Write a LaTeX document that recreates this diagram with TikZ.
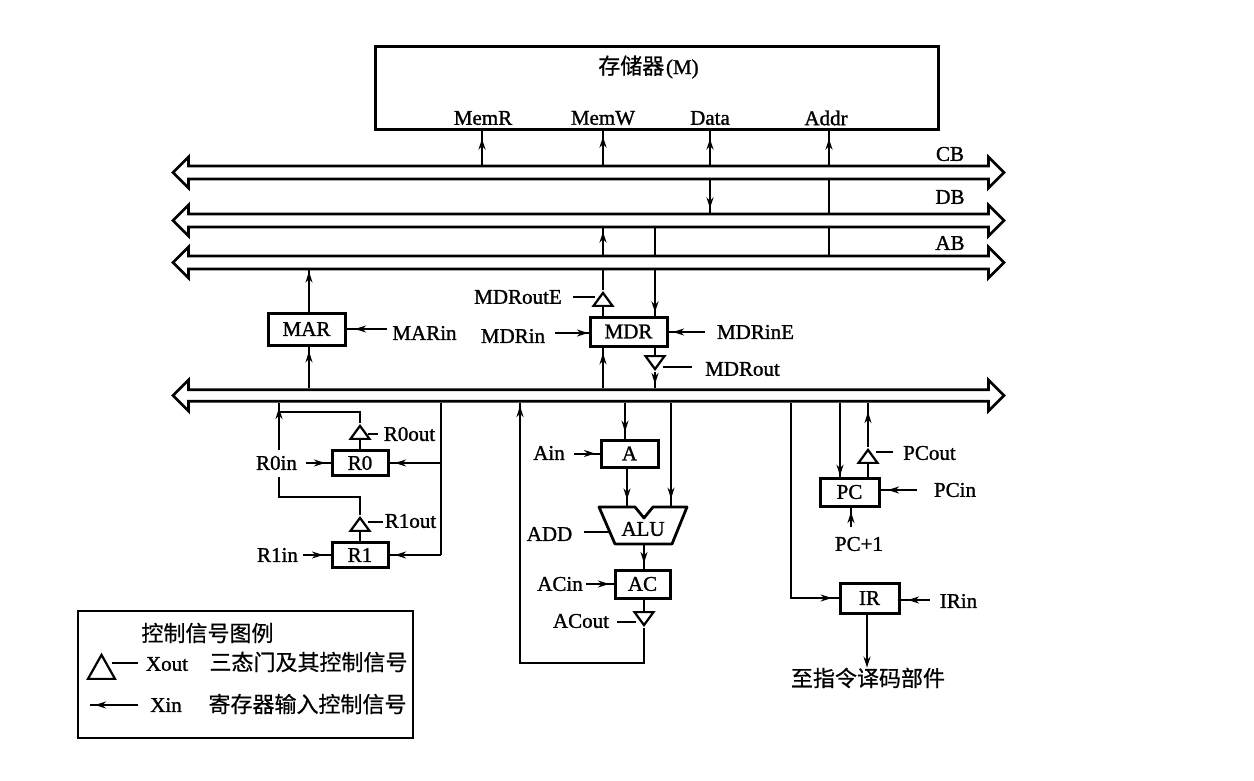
\documentclass[tikz,border=0pt]{standalone}
\usepackage{fontspec}
\setmainfont{Liberation Serif}[FakeBold=1.2]
\newfontfamily\cjk{Noto Sans CJK SC}[FakeBold=0.6]
\usetikzlibrary{arrows.meta,decorations.markings,shapes.geometric,shapes.arrows}
\tikzset{
  x=1pt,y=-1pt,
  label/.style={inner sep=0pt,font=\fontsize{21}{24}\selectfont,text=black},
  cjklabel/.style={inner sep=0pt,font=\fontsize{22}{24}\selectfont\cjk,text=black},
  reg/.style={draw,line width=3pt,inner sep=0pt,font=\fontsize{21}{24}\selectfont,text=black},
  bus/.style={draw,fill=white,line width=2.8pt,double arrow,double arrow head extend=9pt,
     double arrow head indent=0pt,inner xsep=0pt,inner ysep=5pt,minimum height=831pt,minimum width=31pt},
  link/.style={line width=2.3pt},
  ctl/.style={line width=2pt},
  tip at/.style={postaction={decorate},decoration={markings,
     mark=at position #1 with {\arrow{Stealth[length=11pt,width=7pt]}}}},
  tribuf/.style={draw,line width=2.2pt,isosceles triangle,isosceles triangle stretches,inner sep=0pt,
     minimum width=19pt,minimum height=13pt},
  triup/.style={tribuf,shape border rotate=90},
  tridown/.style={tribuf,shape border rotate=-90},
}
\begin{document}
\begin{tikzpicture}
\useasboundingbox (0,0) rectangle (1254,781);
\fill[white] (0,0) rectangle (1254,781);
\foreach \v in {279,309,360,441,482,520,603,625,627,644,655,671,710,791,829,840,851,867,868}
  \coordinate (x\v) at (\v,0);
\foreach \v in {412,450,477,497}
  \coordinate (y\v) at (0,\v);

% memory
\node[draw,line width=3pt,minimum width=563pt,minimum height=83pt,inner sep=0pt] (M) at (656.5,88.5) {};
\node[inner sep=0pt] (Mt) at (648.5,67) {{\cjk\fontsize{22}{24}\selectfont 存储器}\,{\fontsize{21}{24}\selectfont (M)}};
\node[label] (pR) at (483,118) {MemR};
\node[label] (pW) at (603,118) {MemW};
\node[label] (pD) at (710,118) {Data};
\node[label] (pA) at (826,118) {Addr};

% buses
\node[bus] (cb) at (588.5,172.5) {};
\node[bus] (db) at (588.5,220.5) {};
\node[bus] (ab) at (588.5,262.5) {};
\node[bus,inner ysep=4pt] (ib) at (588.5,395.5) {};
\node[label] (tcb) at (950,154) {CB};
\node[label] (tdb) at (950,197) {DB};
\node[label] (tab) at (950,243) {AB};

% memory to buses
\draw[link,tip at=26pt] (x482 |- cb.north) -- (x482 |- M.south);
\draw[link,tip at=28pt] (x603 |- cb.north) -- (x603 |- M.south);
\draw[link,tip at=26pt] (x710 |- cb.north) -- (x710 |- M.south);
\draw[link,tip at=26pt] (x829 |- cb.north) -- (x829 |- M.south);
\draw[link,tip at=28pt] (x710 |- cb.south) -- (x710 |- db.north);
\draw[link] (x829 |- cb.south) -- (x829 |- db.north);
\draw[link] (x829 |- db.south) -- (x829 |- ab.north);
\draw[link,tip at=23pt] (x603 |- ab.north) -- (x603 |- db.south);
\draw[link] (x655 |- db.south) -- (x655 |- ab.north);

% MAR
\node[reg,minimum width=77pt,minimum height=32pt] (MAR) at (306.5,329) {MAR};
\draw[link,tip at=40pt] (MAR.north -| x309) -- (x309 |- ab.south);
\draw[link,tip at=37pt] (x309 |- ib.north) -- (x309 |- MAR.south);
\node[label] (MARin) at (424.5,333) {MARin};
\coordinate (cMAR) at (387,329);
\draw[ctl,tip at=32pt] (cMAR) -- (MAR.east |- cMAR);

% MDR
\node[reg,minimum width=77pt,minimum height=29pt] (MDR) at (628.5,331.5) {MDR};
\node[triup,anchor=apex] (tE) at (603,290) {};
\draw[link] (tE.apex) -- (x603 |- ab.south);
\draw[link] (MDR.north -| x603) -- (x603 |- tE.south);
\draw[link,tip at=42pt] (x655 |- ab.south) -- (MDR.north -| x655);
\node[label] (MDRoutE) at (518,297) {MDRoutE};
\coordinate (cE) at (573,297);
\draw[ctl] (cE) -- (tE.west |- cE);
\node[label] (MDRin) at (513,336) {MDRin};
\coordinate (cMi) at (555,333);
\draw[ctl,tip at=33pt] (cMi) -- (MDR.west |- cMi);
\node[label] (MDRinE) at (755.5,332) {MDRinE};
\coordinate (cMe) at (705,332);
\draw[ctl,tip at=32pt] (cMe) -- (MDR.east |- cMe);
\draw[link,tip at=35pt] (x603 |- ib.north) -- (MDR.south -| x603);
\node[tridown,anchor=apex] (tO) at (655,372) {};
\draw[link] (MDR.south -| x655) -- (x655 |- tO.north);
\draw[link,tip at=12pt] (tO.apex) -- (x655 |- ib.north);
\node[label] (MDRout) at (742.5,369) {MDRout};
\coordinate (cO) at (692,367);
\draw[ctl] (cO) -- (tO.east |- cO);

% R0 R1
\node[reg,minimum width=56pt,minimum height=25pt] (R0) at (360,463) {R0};
\node[reg,minimum width=56pt,minimum height=25pt] (R1) at (360,555) {R1};
\node[triup,anchor=apex] (t0) at (360,423) {};
\node[triup,anchor=apex] (t1) at (360,515) {};
\draw[link] (R0.north) -- (x360 |- t0.south);
\draw[link] (R1.north) -- (x360 |- t1.south);
\draw[link,tip at=42pt] (x279 |- y450) -- (x279 |- ib.south);
\draw[link] (t0.apex) -- (x360 |- y412) -- (x279 |- y412);
\draw[link] (t1.apex) -- (x360 |- y497) -- (x279 |- y497) -- (x279 |- y477);
\draw[link] (x441 |- ib.south) -- (x441 |- R1.east);
\draw[link,tip at=46pt] (x441 |- R1.east) -- (R1.east);
\draw[link,tip at=46pt] (x441 |- R0.east) -- (R0.east);
\node[label] (R0in) at (276.5,463) {R0in};
\coordinate (c0) at (306,463);
\draw[ctl,tip at=19pt] (c0) -- (R0.west);
\node[label] (R1in) at (277.5,555) {R1in};
\coordinate (c1) at (303,555);
\draw[ctl,tip at=20pt] (c1) -- (R1.west);
\node[label] (R0out) at (409.5,434) {R0out};
\coordinate (c0o) at (378,434);
\draw[ctl] (c0o) -- (t0.east |- c0o);
\node[label] (R1out) at (410.5,521) {R1out};
\coordinate (c1o) at (383,522);
\draw[ctl] (c1o) -- (t1.east |- c1o);

% A / ALU / AC
\node[reg,minimum width=57pt,minimum height=27pt] (A) at (629.5,453.5) {A};
\draw[link,tip at=29pt] (x625 |- ib.south) -- (x625 |- A.north);
\node[label] (Ain) at (549,453) {Ain};
\coordinate (cA) at (574,453.5);
\draw[ctl,tip at=21pt] (cA) -- (A.west);
\coordinate (aluTop) at (0,506);
\coordinate (aluBot) at (0,544);
\draw[line width=2.8pt,line join=round] (599,507) -- (635,507) -- (644,518) -- (653,507) -- (687,507) -- (672,544) -- (615,544) -- cycle;
\node[label] (ALUt) at (643,529) {ALU};
\draw[link,tip at=31pt] (x627 |- A.south) -- (x627 |- aluTop);
\draw[link,tip at=96pt] (x671 |- ib.south) -- (x671 |- aluTop);
\node[label] (ADD) at (549.5,534) {ADD};
\coordinate (cADD) at (584,532);
\coordinate (aluL) at (610,532);
\draw[ctl] (cADD) -- (aluL);
\node[reg,minimum width=55pt,minimum height=28pt] (AC) at (642.5,584) {AC};
\draw[link,tip at=19pt] (x644 |- aluBot) -- (x644 |- AC.north);
\node[label] (ACin) at (560,584) {ACin};
\coordinate (cAC) at (586,584);
\draw[ctl,tip at=23pt] (cAC) -- (AC.west);
\node[tridown,anchor=apex] (tAC) at (644,628) {};
\draw[link] (AC.south -| x644) -- (x644 |- tAC.north);
\node[label] (ACout) at (581,621) {ACout};
\coordinate (cACo) at (617,622);
\draw[ctl] (cACo) -- (tAC.west |- cACo);
\coordinate (yb) at (0,663);
\draw[link,tip at=416pt] (tAC.apex) -- (x644 |- yb) -- (x520 |- yb) -- (x520 |- ib.south);

% PC
\node[reg,minimum width=59pt,minimum height=28pt] (PC) at (849.5,492) {PC};
\draw[link,tip at=73pt] (x840 |- ib.south) -- (x840 |- PC.north);
\node[triup,anchor=apex] (tP) at (868,447) {};
\draw[link] (PC.north -| x868) -- (x868 |- tP.south);
\draw[link,tip at=35pt] (tP.apex) -- (x868 |- ib.south);
\node[label] (PCout) at (929.5,453) {PCout};
\coordinate (cPo) at (893,452);
\draw[ctl] (cPo) -- (tP.east |- cPo);
\node[label] (PCin) at (955,490) {PCin};
\coordinate (cPi) at (917,490);
\draw[ctl,tip at=29pt] (cPi) -- (PC.east |- cPi);
\node[label] (PCp) at (859,544) {PC+1};
\coordinate (cPp) at (851,527);
\draw[ctl,tip at=15pt] (cPp) -- (x851 |- PC.south);

% IR
\node[reg,minimum width=59pt,minimum height=30pt] (IR) at (869.5,598) {IR};
\draw[link,tip at=236pt] (x791 |- ib.south) -- (x791 |- IR.west) -- (IR.west);
\node[label] (IRin) at (958.5,601) {IRin};
\coordinate (cI) at (930,600);
\draw[ctl,tip at=22pt] (cI) -- (IR.east |- cI);
\node[cjklabel] (dec) at (868,678) {至指令译码部件};
\draw[link,-{Stealth[length=11pt,width=7pt]}] (IR.south -| x867) -- (x867 |- dec.north);

% legend
\node[draw,line width=2pt,minimum width=335pt,minimum height=127pt,inner sep=0pt] (Leg) at (245.5,674.5) {};
\node[cjklabel] (L0) at (207.5,633) {控制信号图例};
\node[triup,minimum width=27pt,minimum height=24pt,anchor=apex] (Lt) at (101.5,652) {};
\node[label] (Lo) at (167,664) {Xout};
\coordinate (Lc) at (138,663);
\draw[ctl] (Lc) -- (Lt.east |- Lc);
\node[cjklabel] (L1) at (308.5,662) {三态门及其控制信号};
\node[label] (Li) at (166,705) {Xin};
\coordinate (Lc2) at (138,705);
\coordinate (Lc3) at (90,705);
\draw[ctl,tip at=43pt] (Lc2) -- (Lc3);
\node[cjklabel] (L2) at (307.5,704) {寄存器输入控制信号};
\end{tikzpicture}
\end{document}
